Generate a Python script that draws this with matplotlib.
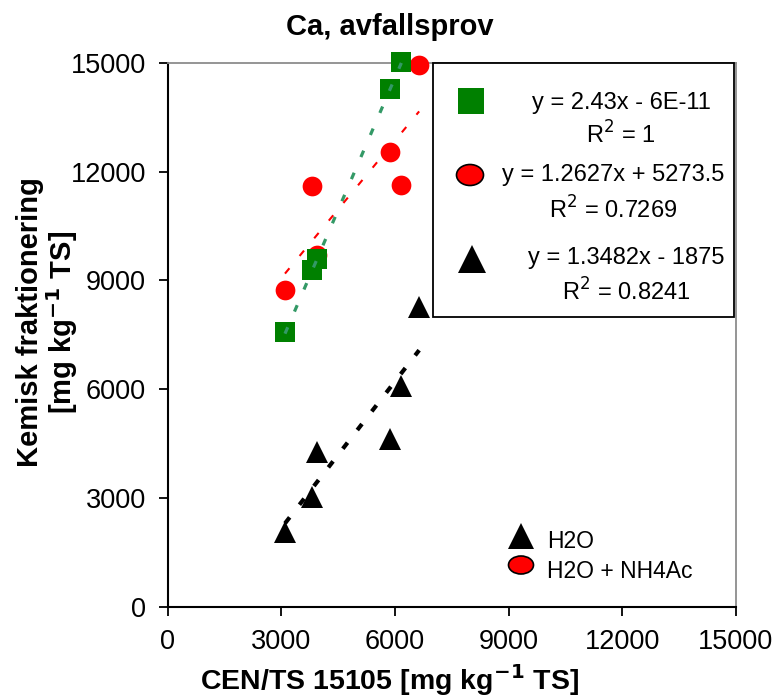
import numpy as np
import matplotlib

matplotlib.use("Agg")
import matplotlib.pyplot as plt
from matplotlib.lines import Line2D
from matplotlib.patches import Ellipse, Rectangle

plt.rcParams["font.family"] = ["Liberation Sans", "DejaVu Sans"]
plt.rcParams["lines.scale_dashes"] = False

# CEN/TS 15105 values (x), shared by the three extraction series
cen_x = [3100, 3800, 3950, 5860, 6170, 6640]
green_y = [7570, 9280, 9600, 14270, 15020]          # squares (5 samples)
red_y = [8730, 11590, 9690, 12550, 11620, 14950]     # H2O + NH4Ac
black_y = [2060, 3030, 4270, 4620, 6080, 8260]       # H2O

# trendline coefficients as printed in the chart
fit_slope = [2.43, 1.2627, 1.3482]
fit_icept = [-6e-11, 5273.5, -1875]
fit_eq = ["y = 2.43x - 6E-11", "y = 1.2627x + 5273.5", "y = 1.3482x - 1875"]
fit_r2 = ["R$^2$ = 1", "R$^2$ = 0.7269", "R$^2$ = 0.8241"]

ticks = [0, 3000, 6000, 9000, 12000, 15000]

W, H = 777, 697


def fx(px):
    return px / W


def fy(py):
    return 1 - py / H


fig = plt.figure(figsize=(W / 100, H / 100), dpi=100)
ax = fig.add_axes([fx(167.5), fy(607), (736 - 167.5) / W, (607 - 62.7) / H])

ax.set_xlim(0, 15000)
ax.set_ylim(0, 15000)
ax.set_xticks(ticks)
ax.set_yticks(ticks)
ax.tick_params(labelsize=19.5, direction="out", length=6.5, width=1.3, pad=9)
for s in ("left", "bottom"):
    ax.spines[s].set_color("black")
    ax.spines[s].set_linewidth(1.5)
for s in ("top", "right"):
    ax.spines[s].set_color("#8c8c8c")
    ax.spines[s].set_linewidth(1.3)

# points
gx = cen_x[:len(green_y)]
ax.plot(cen_x, red_y, "o", color="#ff0000", ms=14.2, mew=0, clip_on=False, zorder=3)
ax.plot(gx, green_y, "s", color="#008000", ms=14, mew=0, clip_on=False, zorder=4)
ax.plot(cen_x, black_y, "^", color="black", ms=15.6, mew=0, clip_on=False, zorder=4)

# trendlines
line_style = [("#339966", 2.3, (5, 12.3)), ("#ff0000", 1.5, (5, 11.5)), ("black", 3.0, (5.5, 11.5))]
series_x = [gx, cen_x, cen_x]
for xs, a, b, (c, lw, d) in zip(series_x, fit_slope, fit_icept, line_style):
    xx = np.array([min(xs), max(xs)])
    ax.plot(xx, a * xx + b, color=c, lw=lw, dashes=d, dash_capstyle="butt",
            clip_on=False, zorder=5)

# titles
sup = "$^{\\mathbf{-1}}$"
fig.text(fx(389.5), fy(27), "Ca, avfallsprov", ha="center", va="center",
         fontsize=21, fontweight="bold")
fig.text(fx(389), fy(680), "CEN/TS 15105 [mg kg" + sup + " TS]", ha="center",
         va="center", fontsize=20.5, fontweight="bold")
fig.text(fx(48), fy(322), "Kemisk fraktionering\n[mg kg" + sup + " TS]", ha="center",
         va="center", rotation=90, fontsize=21, fontweight="bold", linespacing=1.0)

# trendline legend box
fig.add_artist(Rectangle((fx(433), fy(317)), (734 - 433) / W, (317 - 63) / H,
                         transform=fig.transFigure, facecolor="white",
                         edgecolor="black", lw=1.3, zorder=6))
eq_rows = [(103, 135), (175, 210), (258, 292)]
eq_cx = [621, 613, 626]
for eq, r2, (y1, y2), cx in zip(fit_eq, fit_r2, eq_rows, eq_cx):
    fig.text(fx(cx), fy(y1), eq, ha="center", va="center", fontsize=17, zorder=7)
    fig.text(fx(cx), fy(y2), r2, ha="center", va="center", fontsize=17, zorder=7)

fig.add_artist(Line2D([fx(471)], [fy(101)], marker="s", ms=19, color="#008000",
                      mew=0, transform=fig.transFigure, zorder=7))
fig.add_artist(Ellipse((fx(470), fy(175)), 27 / W, 21 / H, transform=fig.transFigure,
                       facecolor="#ff0000", edgecolor="black", lw=1.2, zorder=7))
fig.add_artist(Line2D([fx(472)], [fy(259)], marker="^", ms=19.5, color="black",
                      mew=0, transform=fig.transFigure, zorder=7))

# series legend (bottom right)
fig.add_artist(Line2D([fx(521)], [fy(536)], marker="^", ms=19, color="black",
                      mew=0, transform=fig.transFigure, zorder=7))
fig.add_artist(Ellipse((fx(521), fy(565)), 25 / W, 18 / H, transform=fig.transFigure,
                       facecolor="#ff0000", edgecolor="black", lw=1.2, zorder=7))
fig.text(fx(547), fy(541), "H2O", ha="left", va="center", fontsize=16.5)
fig.text(fx(547), fy(571), "H2O + NH4Ac", ha="left", va="center", fontsize=16.5)

plt.savefig("out.png", dpi=100)
